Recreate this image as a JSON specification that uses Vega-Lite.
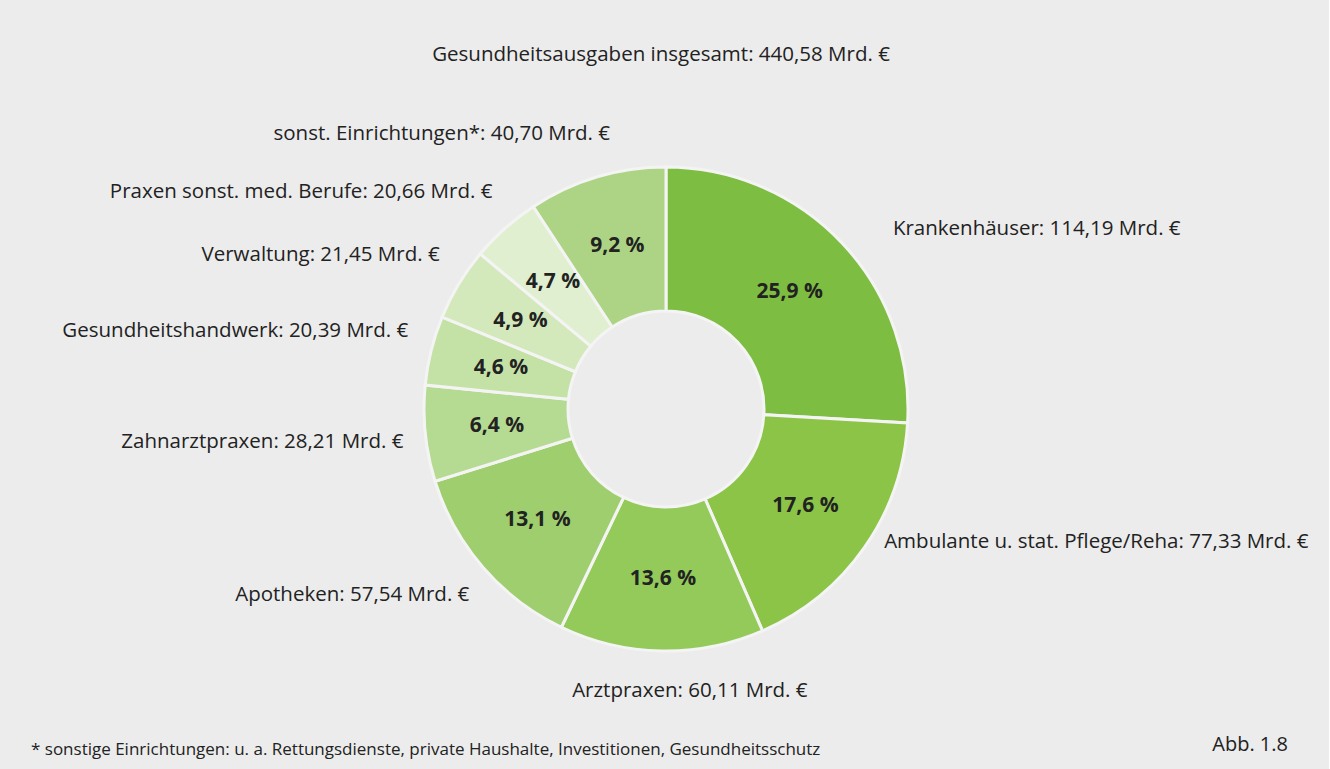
{
  "$schema": "https://vega.github.io/schema/vega-lite/v6.json",
  "background": "#ececec",
  "padding": {"left": 31, "top": 44, "right": 20, "bottom": 16},
  "config": {
    "view": {"stroke": null},
    "font": "Open Sans",
    "text": {"font": "Open Sans", "color": "#222222"},
    "title": {"font": "Open Sans", "color": "#222222", "fontWeight": "normal"}
  },
  "title": {"text": "Abb. 1.8", "orient": "bottom", "anchor": "end", "fontSize": 20, "dy": -27, "dx": -13, "frame": "group"},
  "vconcat": [
    {
      "title": {"text": "* sonstige Einrichtungen: u. a. Rettungsdienste, private Haushalte, Investitionen, Gesundheitsschutz", "orient": "bottom", "anchor": "start", "fontSize": 17, "offset": 5},
      "vconcat": [
        {
          "title": {"text": "Gesundheitsausgaben insgesamt: 440,58 Mrd. €", "anchor": "middle", "fontSize": 20.5, "offset": 16, "dx": -5, "frame": "group"},
          "width": 1270,
          "height": 656,
          "data": {
            "values": [
              {"n": 1, "cat": "Krankenhäuser", "value": 114.19, "pct": "25,9 %", "label": "Krankenhäuser: 114,19 Mrd. €"},
              {"n": 2, "cat": "Ambulante u. stat. Pflege/Reha", "value": 77.33, "pct": "17,6 %", "label": "Ambulante u. stat. Pflege/Reha: 77,33 Mrd. €"},
              {"n": 3, "cat": "Arztpraxen", "value": 60.11, "pct": "13,6 %", "label": "Arztpraxen: 60,11 Mrd. €"},
              {"n": 4, "cat": "Apotheken", "value": 57.54, "pct": "13,1 %", "label": "Apotheken: 57,54 Mrd. €"},
              {"n": 5, "cat": "Zahnarztpraxen", "value": 28.21, "pct": "6,4 %", "label": "Zahnarztpraxen: 28,21 Mrd. €"},
              {"n": 6, "cat": "Gesundheitshandwerk", "value": 20.39, "pct": "4,6 %", "label": "Gesundheitshandwerk: 20,39 Mrd. €"},
              {"n": 7, "cat": "Verwaltung", "value": 21.45, "pct": "4,9 %", "label": "Verwaltung: 21,45 Mrd. €"},
              {"n": 8, "cat": "Praxen sonst. med. Berufe", "value": 20.66, "pct": "4,7 %", "label": "Praxen sonst. med. Berufe: 20,66 Mrd. €"},
              {"n": 9, "cat": "sonst. Einrichtungen*", "value": 40.70, "pct": "9,2 %", "label": "sonst. Einrichtungen*: 40,70 Mrd. €"}
            ]
          },
          "encoding": {
            "theta": {"field": "value", "type": "quantitative", "stack": true},
            "order": {"field": "n", "type": "quantitative"}
          },
          "layer": [
            {
              "mark": {"type": "arc", "outerRadius": 242, "innerRadius": 98, "stroke": "#f4f4f4", "strokeWidth": 3},
              "encoding": {
                "color": {
                  "field": "cat", "type": "nominal", "legend": null,
                  "scale": {
                    "domain": ["Krankenhäuser", "Ambulante u. stat. Pflege/Reha", "Arztpraxen", "Apotheken", "Zahnarztpraxen", "Gesundheitshandwerk", "Verwaltung", "Praxen sonst. med. Berufe", "sonst. Einrichtungen*"],
                    "range": ["#7dbd41", "#8bc447", "#93ca5a", "#9fce6e", "#b5da92", "#c5e2a6", "#d3e8bb", "#e0efd0", "#acd484"]
                  }
                }
              }
            },
            {
              "mark": {"type": "text", "radius": 170, "fontSize": 21, "fontWeight": "bold", "baseline": "middle"},
              "encoding": {"text": {"field": "pct", "type": "nominal"}}
            },
            {
              "mark": {"type": "text", "radius": 290, "fontSize": 20.5, "align": "left", "baseline": "middle", "dx": 16, "dy": 19},
              "encoding": {"text": {"condition": {"test": "datum.n === 1", "field": "label", "type": "nominal"}, "value": ""}}
            },
            {
              "mark": {"type": "text", "radius": 255, "fontSize": 20.5, "align": "left", "baseline": "middle", "dx": 9, "dy": -13},
              "encoding": {"text": {"condition": {"test": "datum.n === 2", "field": "label", "type": "nominal"}, "value": ""}}
            },
            {
              "mark": {"type": "text", "radius": 282, "fontSize": 20.5, "align": "center", "baseline": "middle", "dx": 29},
              "encoding": {"text": {"condition": {"test": "datum.n === 3", "field": "label", "type": "nominal"}, "value": ""}}
            },
            {
              "mark": {"type": "text", "radius": 276, "fontSize": 20.5, "align": "right", "baseline": "middle", "dx": 12, "dy": 5},
              "encoding": {"text": {"condition": {"test": "datum.n === 4 || datum.n === 5", "field": "label", "type": "nominal"}, "value": ""}}
            },
            {
              "mark": {"type": "text", "radius": 276, "fontSize": 20.5, "align": "right", "baseline": "middle", "dx": 10, "dy": -11},
              "encoding": {"text": {"condition": {"test": "datum.n >= 6 && datum.n <= 8", "field": "label", "type": "nominal"}, "value": ""}}
            },
            {
              "mark": {"type": "text", "radius": 276, "fontSize": 20.5, "align": "right", "baseline": "middle", "dx": 23, "dy": -11},
              "encoding": {"text": {"condition": {"test": "datum.n === 9", "field": "label", "type": "nominal"}, "value": ""}}
            }
          ]
        }
      ]
    }
  ]
}
